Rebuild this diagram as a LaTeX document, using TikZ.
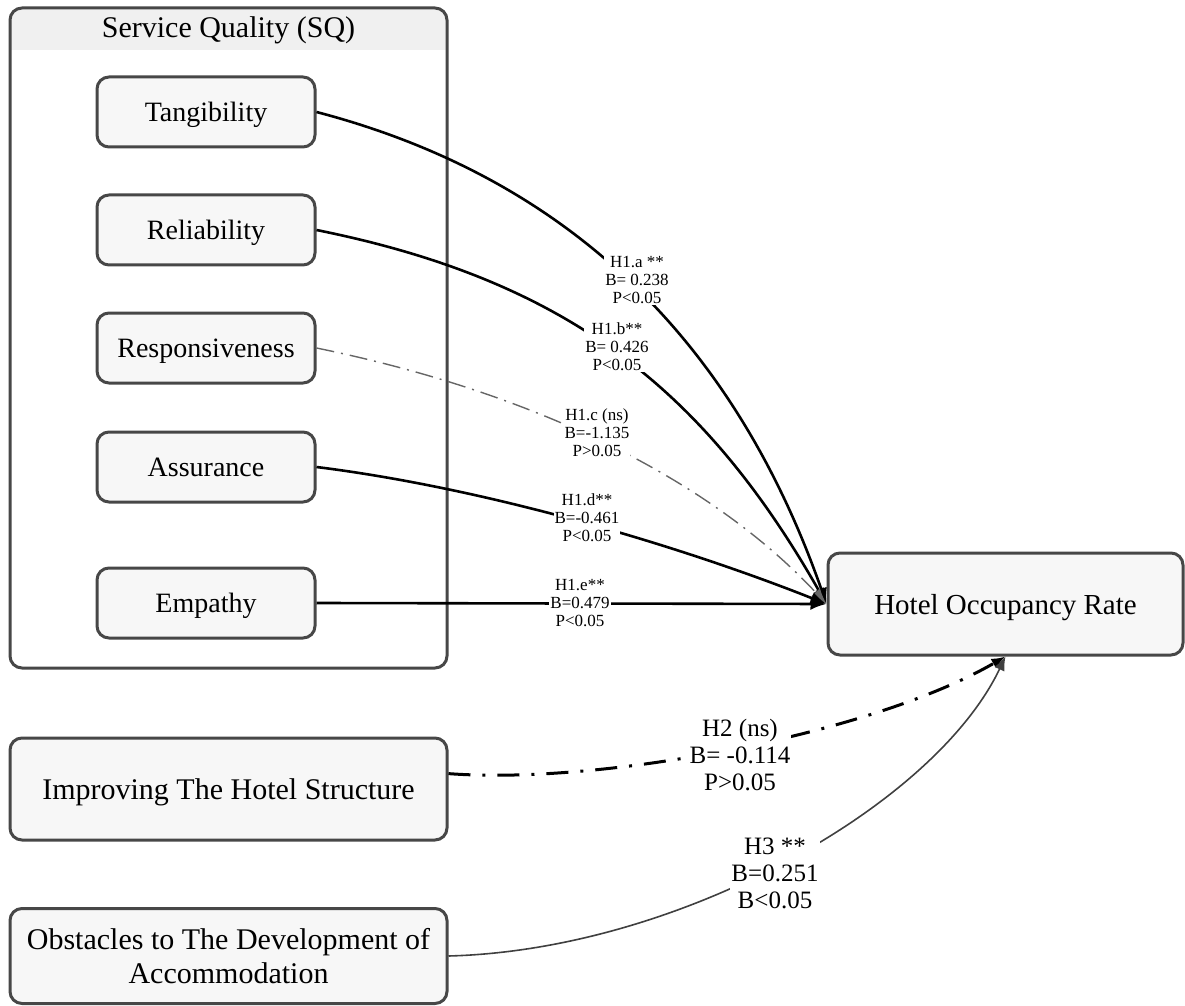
\documentclass[tikz,border=0pt]{standalone}
\usepackage{fontspec}
\setmainfont{Liberation Serif}
\usetikzlibrary{arrows.meta}

\tikzset{
  boxline/.style={draw=black!72, line width=1.5pt, rounded corners=6pt},
  factor/.style={boxline, fill=black!3, minimum width=109pt, minimum height=35pt,
    inner sep=2pt, text depth=0pt, align=center, font=\fontsize{14}{17}\selectfont},
  bigbox/.style={boxline, fill=black!3, minimum width=218.5pt, inner sep=2pt,
    align=center, font=\fontsize{15}{17}\selectfont},
  hyp/.style={fill=white, inner sep=0.5pt, align=center, font=\fontsize{8.5}{9}\selectfont},
  hypbig/.style={fill=white, inner sep=0.5pt, align=center, font=\fontsize{12.5}{13.5}\selectfont},
  sig/.style={-{Latex[length=8pt,width=6pt]}, line width=1.3pt},
  nonsig/.style={-{Latex[length=8pt,width=6pt]}, line width=0.7pt, black!60,
    dash pattern=on 9pt off 3.5pt on 1pt off 3.5pt},
}

\begin{document}
\begin{tikzpicture}[x=0.5pt,y=-0.5pt,>=Latex]
  \useasboundingbox (0,0) rectangle (1185,1006);
  % service quality group: header band, then frame
  \begin{scope}
    \clip[rounded corners=6pt] (10,8) rectangle (447,668);
    \fill[black!6] (10,8) rectangle (447,50);
  \end{scope}
  \node[boxline, minimum width=218.5pt, minimum height=330pt] (sq) at (228.5,338) {};
  \node[font=\fontsize{15}{17}\selectfont] (sqtitle) at (228.5,30) {Service Quality (SQ)};
  \foreach \nd/\ypos/\txt in {tang/112/Tangibility, reli/230/Reliability,
      resp/348/Responsiveness, assu/467/Assurance, empa/603/Empathy}
    \node[factor] (\nd) at (206,\ypos) {\txt};

  % outcome and the two other factors
  \node[bigbox, minimum width=177.5pt, minimum height=51pt, text depth=0pt,
    font=\fontsize{14.5}{17}\selectfont] (hor) at (1005.5,604) {Hotel Occupancy Rate};
  \node[bigbox, minimum height=51pt, text depth=0pt] (imp) at (228.5,789)
    {Improving The Hotel Structure};
  \node[bigbox, minimum height=47.5pt] (obs) at (228.5,956)
    {Obstacles to The Development of\\Accommodation};

  % H1 paths
  \draw[sig] (tang.east) .. controls (565,177) and (733,337) .. (hor.west);
  \draw[sig] (reli.east) .. controls (565,280) and (703,387) .. (hor.west);
  \draw[nonsig] (resp.east) .. controls (560,398) and (723,493) .. (hor.west);
  \draw[sig] (assu.east) .. controls (485,488) and (678,545) .. (hor.west);
  \draw[sig] (empa.east) -- (hor.west);

  % H2 and H3
  \draw[-{Latex[length=7pt,width=5.5pt]}, line width=1.5pt,
    dash pattern=on 11pt off 6pt on 1.5pt off 6pt]
    (imp.4) .. controls (600,785) and (870,735) .. (hor.south);
  \draw[-{Latex[length=7pt,width=5.5pt]}, line width=0.8pt, black!75]
    (obs.east) .. controls (680,950) and (935,805) .. (hor.south);

  % coefficients
  \node[hyp] (la) at (637,280) {H1.a **\\B= 0.238\\P<0.05};
  \node[hyp] (lb) at (617,347) {H1.b**\\B= 0.426\\P<0.05};
  \node[hyp] (lc) at (597,433) {H1.c (ns)\\B=-1.135\\P>0.05};
  \node[hyp] (ld) at (587,518) {H1.d**\\B=-0.461\\P<0.05};
  \node[hyp] (le) at (580,603) {H1.e**\\B=0.479\\P<0.05};
  \node[hypbig] (lh2) at (740,755) {H2 (ns)\\B= -0.114\\P>0.05};
  \node[hypbig] (lh3) at (775,873) {H3 **\\B=0.251\\B<0.05};
\end{tikzpicture}
\end{document}
